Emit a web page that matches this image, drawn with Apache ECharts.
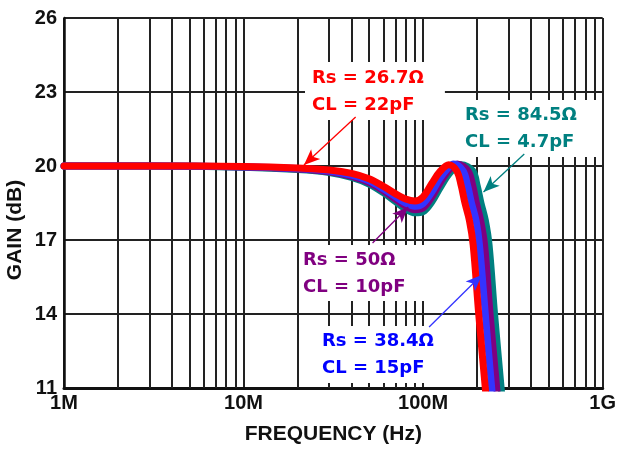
<!DOCTYPE html>
<html>
<head>
<meta charset="utf-8">
<script src="https://cdn.jsdelivr.net/npm/echarts@6/dist/echarts.min.js"></script>
<style>
  html, body { margin: 0; padding: 0; background: #fff; }
  #chart { width: 619px; height: 451px; }
</style>
</head>
<body>
<div id="chart"></div>
<script>
// frequency in MHz, gain in dB
var freqTicks = [1, 10, 100, 1000]
var freqTickLabels = ['1M', '10M', '100M', '1G']
var minorFreqs = [2, 3, 4, 5, 6, 7, 8, 9, 20, 30, 40, 50, 60, 70, 80, 90, 200, 300, 400, 500, 600, 700, 800, 900]

// Rs = 26.7, CL = 22pF
var redFreq = [1, 3, 10, 20, 30, 40, 50, 60, 70, 80, 90, 100, 112, 124, 139, 154, 163, 171, 181, 190, 204, 222, 235]
var redGain = [20.0, 20.0, 19.98, 19.92, 19.84, 19.7, 19.48, 19.18, 18.88, 18.66, 18.58, 18.75, 19.3, 19.77, 20.05, 19.8, 19.2, 18.5, 17.8, 16.8, 14.0, 11.0, 9.0]
// Rs = 38.4, CL = 15pF
var blueFreq = [1, 3, 10, 20, 30, 40, 50, 60, 70, 80, 90, 100, 112, 124, 136, 148, 167, 177, 186, 197, 206, 222, 241, 255]
var blueGain = [20.0, 20.0, 19.97, 19.9, 19.8, 19.63, 19.4, 19.08, 18.76, 18.5, 18.37, 18.48, 18.95, 19.5, 19.88, 20.08, 19.8, 19.2, 18.5, 17.8, 16.8, 14.0, 11.0, 9.0]
// Rs = 50, CL = 10pF
var purpleFreq = [1, 3, 10, 20, 30, 40, 50, 60, 70, 80, 90, 100, 112, 124, 140, 155, 178, 189, 198, 209, 220, 236, 257, 272]
var purpleGain = [20.0, 20.0, 19.96, 19.88, 19.77, 19.58, 19.33, 19.0, 18.66, 18.38, 18.23, 18.3, 18.75, 19.3, 19.85, 20.08, 19.8, 19.2, 18.5, 17.8, 16.8, 14.0, 11.0, 9.0]
// Rs = 84.5, CL = 4.7pF
var tealFreq = [1, 3, 10, 20, 30, 40, 50, 60, 70, 80, 90, 100, 112, 124, 142, 163, 189, 200, 210, 222, 233, 250, 272, 288]
var tealGain = [20.0, 20.0, 19.95, 19.86, 19.74, 19.54, 19.27, 18.92, 18.56, 18.26, 18.1, 18.15, 18.55, 19.1, 19.75, 20.05, 19.8, 19.2, 18.5, 17.8, 16.8, 14.0, 11.0, 9.0]

// arrow [from, to] in data coords
var redArrow = [[42.1, 21.99], [21.7, 20.04]]
var blueArrow = [[108, 13.47], [212, 15.58]]
var purpleArrow = [[52.3, 16.88], [82.6, 18.34]]
var tealArrow = [[366, 20.49], [217, 18.95]]

function pairs(xs, ys) {
  return xs.map(function (x, i) { return [x, ys[i]] })
}

function curve(name, color, xs, ys, arrow) {
  return {
    name: name,
    type: 'line',
    smooth: 0.35,
    showSymbol: false,
    symbol: 'none',
    data: pairs(xs, ys),
    lineStyle: { color: color, width: 7, cap: 'round', join: 'round' },
    itemStyle: { color: color },
    markLine: {
      silent: true,
      symbol: ['none', 'arrow'],
      symbolSize: [10, 16],
      label: { show: false },
      lineStyle: { color: color, width: 1.3, type: 'solid' },
      data: [[{ coord: arrow[0] }, { coord: arrow[1] }]]
    }
  }
}

var labelFont = 'bold 18px "DejaVu Sans"'
function note(text, color, x, y, padding) {
  return {
    type: 'text',
    x: x,
    y: y,
    z: 3,
    silent: true,
    style: {
      text: text,
      fill: color,
      font: labelFont,
      lineHeight: 27,
      backgroundColor: '#fff',
      padding: padding
    }
  }
}

var chart = echarts.init(document.getElementById('chart'))
chart.setOption({
  animation: false,
  backgroundColor: '#fff',
  grid: { left: 64, right: 13, top: 18, bottom: 63 },
  xAxis: {
    type: 'log',
    logBase: 10,
    min: 1,
    max: 1000,
    name: 'FREQUENCY (Hz)',
    nameLocation: 'middle',
    nameGap: 36,
    nameTextStyle: { color: '#111', fontSize: 21, fontWeight: 'bold', fontFamily: 'Liberation Sans' },
    axisLine: { lineStyle: { color: '#111', width: 3 } },
    axisTick: { show: false },
    axisLabel: {
      color: '#111',
      fontSize: 20,
      fontWeight: 'bold',
      fontFamily: 'Liberation Sans',
      margin: 5,
      formatter: function (v) {
        return freqTickLabels[freqTicks.indexOf(Math.round(v))] || ''
      }
    },
    splitLine: { show: true, lineStyle: { color: '#222', width: 2 } }
  },
  yAxis: {
    type: 'value',
    min: 11,
    max: 26,
    interval: 3,
    axisLine: { show: true, lineStyle: { color: '#111', width: 2.5 } },
    axisTick: { show: false },
    axisLabel: {
      color: '#111',
      fontSize: 20,
      fontWeight: 'bold',
      fontFamily: 'Liberation Sans',
      margin: 7
    },
    splitLine: { show: true, lineStyle: { color: '#222', width: 2 } }
  },
  graphic: [
    {
      type: 'text',
      x: 15,
      y: 230,
      rotation: Math.PI / 2,
      silent: true,
      style: {
        text: 'GAIN (dB)',
        fill: '#111',
        font: 'bold 21px "Liberation Sans"',
        align: 'center',
        verticalAlign: 'middle'
      }
    },
    note('Rs = 26.7\u03a9\nCL = 22pF', '#ff0000', 305, 62, [3, 21, 1, 7]),
    note('Rs = 84.5\u03a9\nCL = 4.7pF', '#008080', 460, 100, [2, 24, 1, 5]),
    note('Rs = 50\u03a9\nCL = 10pF', '#800080', 299, 245, [2, 28, 0, 4]),
    note('Rs = 38.4\u03a9\nCL = 15pF', '#0000ff', 317, 326, [2, 12, 1, 5])
  ],
  series: [
    {
      name: 'grid',
      type: 'line',
      data: [],
      silent: true,
      markLine: {
        z: 1,
        silent: true,
        symbol: 'none',
        label: { show: false },
        lineStyle: { color: '#222', width: 2, type: 'solid' },
        data: minorFreqs.map(function (f) { return { xAxis: f } })
      }
    },
    curve('84.5', '#008080', tealFreq, tealGain, tealArrow),
    curve('50', '#800080', purpleFreq, purpleGain, purpleArrow),
    curve('38.4', '#3333ff', blueFreq, blueGain, blueArrow),
    curve('26.7', '#ff0000', redFreq, redGain, redArrow)
  ]
})
</script>
</body>
</html>
